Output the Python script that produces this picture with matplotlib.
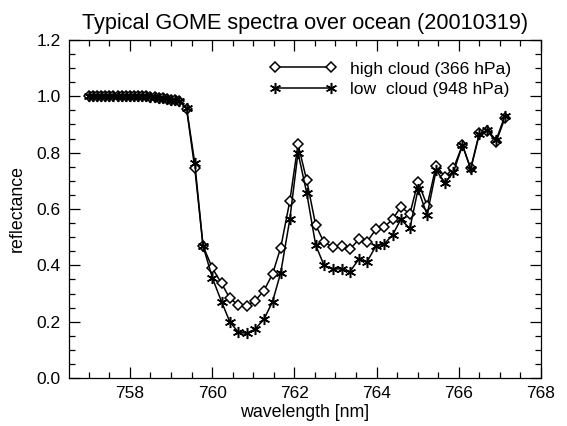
import matplotlib
matplotlib.use('Agg')
import matplotlib.pyplot as plt
from matplotlib.ticker import MultipleLocator

plt.rcParams['font.family'] = ['Liberation Sans', 'DejaVu Sans']

# wavelengths [nm]
wavelength = [757.0, 757.1, 757.2, 757.3, 757.4, 757.5, 757.6, 757.7, 757.8, 757.9,
              758.0, 758.1, 758.2, 758.3, 758.4, 758.5, 758.6, 758.7, 758.8, 758.9,
              759.0, 759.1, 759.2,
              759.38, 759.58, 759.78, 760.01, 760.23, 760.43, 760.64, 760.84, 761.04,
              761.26, 761.47, 761.67, 761.89, 762.09, 762.30, 762.52, 762.72, 762.93,
              763.15, 763.35, 763.57, 763.77, 763.99, 764.19, 764.39, 764.59, 764.81,
              765.01, 765.23, 765.45, 765.66, 765.87, 766.09, 766.29, 766.50, 766.69,
              766.91, 767.12]

high_cloud = [1.0, 1.0, 1.0, 1.0, 1.0, 1.0, 1.0, 1.0, 1.0, 1.0,
              1.0, 1.0, 1.0, 1.0, 1.0, 0.998, 0.997, 0.995, 0.993, 0.99,
              0.988, 0.987, 0.985,
              0.955, 0.744, 0.469, 0.389, 0.336, 0.283, 0.259, 0.257, 0.273,
              0.310, 0.369, 0.463, 0.628, 0.830, 0.703, 0.543, 0.482, 0.466,
              0.469, 0.457, 0.492, 0.484, 0.529, 0.537, 0.563, 0.608, 0.582,
              0.697, 0.612, 0.754, 0.715, 0.744, 0.827, 0.744, 0.869, 0.878,
              0.839, 0.922]

low_cloud = [1.0, 1.0, 1.0, 1.0, 1.0, 1.0, 1.0, 1.0, 1.0, 1.0,
             1.0, 1.0, 1.0, 1.0, 1.0, 0.998, 0.997, 0.995, 0.993, 0.99,
             0.988, 0.987, 0.985,
             0.958, 0.762, 0.469, 0.354, 0.271, 0.200, 0.162, 0.159, 0.173,
             0.208, 0.271, 0.374, 0.563, 0.800, 0.658, 0.472, 0.401, 0.386,
             0.388, 0.377, 0.422, 0.413, 0.470, 0.476, 0.508, 0.563, 0.531,
             0.670, 0.579, 0.738, 0.693, 0.730, 0.827, 0.741, 0.866, 0.880,
             0.845, 0.930]

labels = ['high cloud (366 hPa)', 'low  cloud (948 hPa)']

fig = plt.figure(figsize=(5.67, 4.26), dpi=100)
ax = fig.add_axes([69 / 567, 48 / 426, 472 / 567, 338 / 426])

ax.plot(wavelength, high_cloud, color='k', lw=1.1, marker='D', ms=4.8,
        mfc='white', mec='k', mew=1.1, label=labels[0])
ax.plot(wavelength, low_cloud, color='k', lw=1.1, marker=(6, 2, 0), ms=8,
        mec='k', mew=1.1, label=labels[1])

ax.set_xlim(756.52, 768)
ax.set_ylim(0, 1.2)
ax.xaxis.set_major_locator(MultipleLocator(2))
ax.xaxis.set_minor_locator(MultipleLocator(0.5))
ax.yaxis.set_major_locator(MultipleLocator(0.2))
ax.yaxis.set_minor_locator(MultipleLocator(0.05))
ax.yaxis.set_major_formatter(matplotlib.ticker.FormatStrFormatter('%.1f'))
ax.tick_params(which='both', direction='in', top=True, right=True,
               labelsize=12.5, width=0.9, pad=6)
ax.tick_params(which='major', length=8)
ax.tick_params(which='minor', length=4)
for s in ax.spines.values():
    s.set_linewidth(0.9)

ax.set_xlabel('wavelength [nm]', fontsize=12.8, labelpad=2)
ax.set_ylabel('reflectance', fontsize=12.8, labelpad=8)
ax.set_title('Typical GOME spectra over ocean (20010319)', fontsize=15.6, pad=8)

ax.legend(loc='upper left', bbox_to_anchor=(0.426, 0.937), frameon=False,
          fontsize=12.6, handlelength=3.8, handletextpad=0.75, labelspacing=0.3,
          borderaxespad=0, borderpad=0, markerfirst=True, numpoints=2)

fig.savefig('out.png', dpi=100)
